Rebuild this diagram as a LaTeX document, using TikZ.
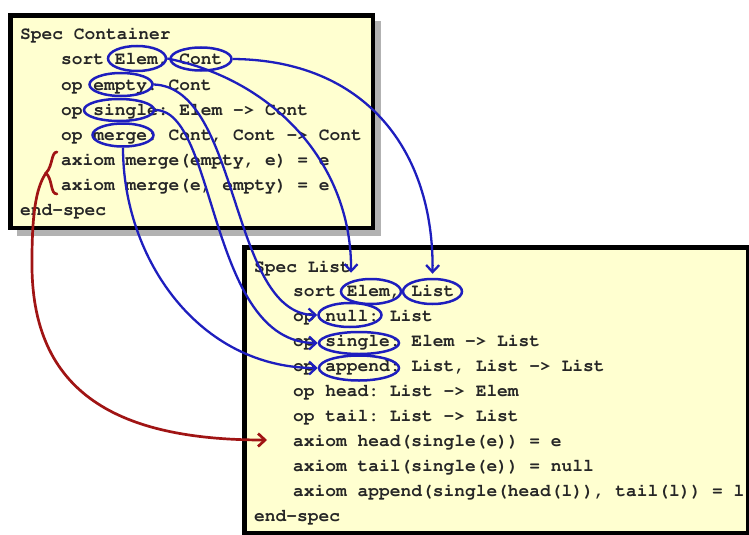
\documentclass[tikz,border=0pt]{standalone}
\usepackage[T1]{fontenc}
\renewcommand\ttdefault{pcr}
\usetikzlibrary{shapes.geometric,arrows.meta}
\definecolor{specfill}{HTML}{FFFFD0}
\definecolor{markblue}{HTML}{1E1EBE}
\definecolor{markred}{HTML}{A01414}

\begin{document}
\begin{tikzpicture}[x=1pt,y=-1pt,
  specline/.style={anchor=base west,inner sep=0pt,text=black!85,font=\ttfamily\bfseries\frenchspacing\fontsize{17.9}{22}\selectfont},
  specbox/.style={draw=black,line width=4.5pt,fill=specfill},
  wordmark/.style={ellipse,draw=markblue,line width=2.5pt,inner sep=0pt},
  tieline/.style={draw=markblue,line width=2.3pt,-{Straight Barb[length=7pt,width=13pt]}},
  redpath/.style={draw=markred,line width=2.7pt}]
\useasboundingbox (0,0) rectangle (749,535);
\fill[gray!60] (17,21) rectangle (381,236);
\draw[specbox] (10.5,15.5) rectangle (373,228);
\draw[specbox] (244.5,247.5) rectangle (748,533);
\node[specline] (c0) at (20,40) {Spec Container};
\foreach \txt [count=\i] in {{sort Elem, Cont},{op empty: Cont},{op single: Elem -> Cont},{op merge: Cont, Cont -> Cont},{axiom merge(empty, e) = e},{axiom merge(e, empty) = e}}
  \node[specline] (c\i) at (61,40+25*\i) {\txt};
\node[specline] (c7) at (20,215) {end-spec};
\node[specline] (l0) at (254,272) {Spec List};
\foreach \txt [count=\i] in {{sort Elem, List},{op null: List},{op single: Elem -> List},{op append: List, List -> List},{op head: List -> Elem},{op tail: List -> List},{axiom head(single(e)) = e},{axiom tail(single(e)) = null},{axiom append(single(head(l)), tail(l)) = l}}
  \node[specline] (l\i) at (293,272+24.9*\i) {\txt};
\node[specline] (l10) at (254,521) {end-spec};
\node[wordmark,minimum width=58,minimum height=25] (cElem) at (137,58.5) {};
\node[wordmark,minimum width=61,minimum height=23] (cCont) at (201,59) {};
\node[wordmark,minimum width=63,minimum height=23] (cEmpty) at (121,84.5) {};
\node[wordmark,minimum width=70,minimum height=22] (cSingle) at (119,110) {};
\node[wordmark,minimum width=61,minimum height=23] (cMerge) at (123,135) {};
\node[wordmark,minimum width=60,minimum height=25] (lElem) at (371,291.5) {};
\node[wordmark,minimum width=59,minimum height=25] (lList) at (432.5,291.5) {};
\node[wordmark,minimum width=63,minimum height=24] (lNull) at (350,315) {};
\node[wordmark,minimum width=80,minimum height=22] (lSingle) at (359,343) {};
\node[wordmark,minimum width=80,minimum height=25] (lAppend) at (359,368) {};
\draw[tieline] (cElem.east) .. controls (275,80) and (352,165) .. ([xshift=-20pt,yshift=5pt]lElem.north);
\draw[tieline,shorten >=4pt] (cCont.east) .. controls (365,60) and (434,150) .. (lList.north);
\draw[tieline] (cEmpty.east) .. controls +(87,3) and +(-88,0) .. (lNull.west);
\draw[tieline] (cSingle.east) .. controls +(62,0) and +(-110,0) .. (lSingle.west);
\draw[tieline] (cMerge.south) .. controls +(0,112) and +(-118,0) .. (lAppend.west);
\coordinate (brace) at (46,173);
\coordinate (axtip) at (267,440);
\draw[redpath,line cap=round] (57,152) .. controls (51,152) and (53,166) .. (brace) .. controls (53,180) and (50,194) .. (57,194);
\draw[redpath,-{Straight Barb[length=7pt,width=13pt]}] (brace) .. controls (38,185) and (32,205) .. (32,260) .. controls (30,395) and (120,440) .. (axtip);
\end{tikzpicture}
\end{document}
